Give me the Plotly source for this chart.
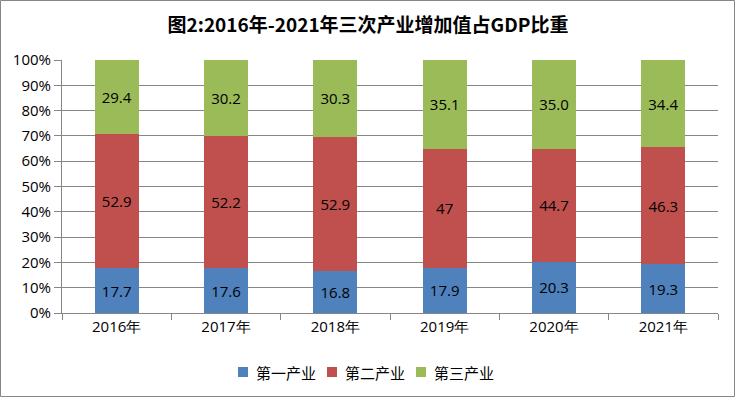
import plotly.graph_objects as go

years = ["2016年", "2017年", "2018年", "2019年", "2020年", "2021年"]
primary = [17.7, 17.6, 16.8, 17.9, 20.3, 19.3]
secondary = [52.9, 52.2, 52.9, 47, 44.7, 46.3]
tertiary = [29.4, 30.2, 30.3, 35.1, 35.0, 34.4]
names = ["第一产业", "第二产业", "第三产业"]
colors = ["#4F81BD", "#C0504D", "#9BBB59"]
labels = [
    ["17.7", "17.6", "16.8", "17.9", "20.3", "19.3"],
    ["52.9", "52.2", "52.9", "47", "44.7", "46.3"],
    ["29.4", "30.2", "30.3", "35.1", "35.0", "34.4"],
]

W, H = 736, 398
L, R, T, B = 62, 18, 60, 85
pw, ph = W - L - R, H - T - B


def px(x):
    return (x - L) / pw


def py(y):
    return (T + ph - y) / ph


fig = go.Figure()
for vals, name, col, txt in zip([primary, secondary, tertiary], names, colors, labels):
    fig.add_trace(go.Bar(
        x=years, y=vals, name=name, marker=dict(color=col, line=dict(width=0)),
        text=txt, textposition="inside", insidetextanchor="middle",
        textfont=dict(color="black", size=15, family="Open Sans, DejaVu Sans"),
        texttemplate="%{text}", showlegend=False,
    ))

# outer chart border
fig.add_shape(type="rect", xref="paper", yref="paper",
              x0=px(0.5), x1=px(W - 1.5), y0=py(H - 1.5), y1=py(0.5),
              line=dict(color="#868686", width=1), fillcolor="rgba(0,0,0,0)", layer="below")

# legend (manual, to match the compact spacing of the reference)
leg_x = [238, 327, 416]
for i, (name, col) in enumerate(zip(names, colors)):
    x0 = leg_x[i]
    fig.add_shape(type="rect", xref="paper", yref="paper",
                  x0=px(x0), x1=px(x0 + 10), y0=py(377), y1=py(367),
                  line=dict(width=0), fillcolor=col)
    fig.add_annotation(xref="paper", yref="paper", x=px(x0 + 16), y=py(372),
                       xanchor="left", yanchor="middle", showarrow=False, text=name,
                       font=dict(size=15, color="black", family="Noto Sans CJK SC"))

fig.update_layout(
    width=W, height=H,
    margin=dict(l=L, r=R, t=T, b=B, autoexpand=False),
    barmode="stack", bargap=0.6, barnorm="percent",
    plot_bgcolor="white", paper_bgcolor="white",
    title=dict(text="<b>图2:2016年-2021年三次产业增加值占GDP比重</b>",
               x=0.5, xref="container", xanchor="center", y=1 - 25 / H, yanchor="middle",
               font=dict(size=19, color="black", family="Noto Sans CJK SC")),
    font=dict(family="Noto Sans CJK SC, Open Sans", color="black", size=14),
    showlegend=False,
)
fig.update_xaxes(showline=True, linecolor="#868686", ticks="outside", tickson="boundaries",
                 ticklen=6, tickcolor="#868686", showgrid=False,
                 tickfont=dict(size=15, family="Open Sans, DejaVu Sans"))
fig.update_yaxes(range=[0, 100], dtick=10, ticksuffix="%", showline=True, linecolor="#868686",
                 ticks="outside", ticklen=7, tickcolor="#868686", showgrid=True,
                 gridcolor="#868686", gridwidth=1, zeroline=False,
                 tickfont=dict(size=15, family="Open Sans, DejaVu Sans"))

fig.write_html("out.html", config={"displayModeBar": False},
               post_script="document.body.style.margin='0';document.body.style.padding='0';")
